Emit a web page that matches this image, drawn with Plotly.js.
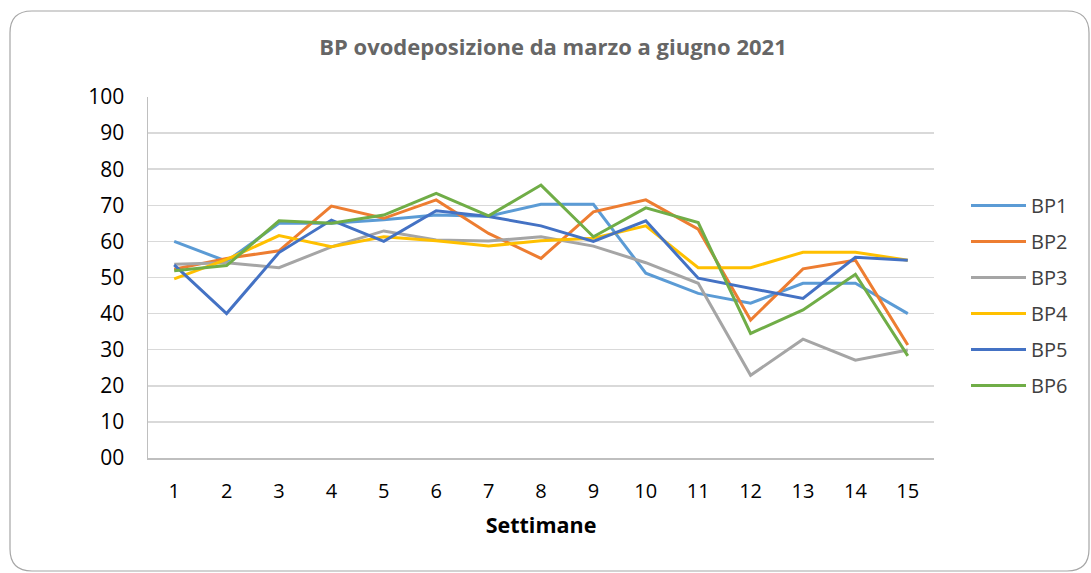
<!DOCTYPE html>
<html>
<head>
<meta charset="utf-8">
<script src="https://cdn.plot.ly/plotly-3.0.1.min.js"></script>
<style>html,body{margin:0;padding:0;background:#fff;}#chart{width:1091px;height:573px;}</style>
</head>
<body>
<div id="chart"></div>
<script>
const weeks = [1,2,3,4,5,6,7,8,9,10,11,12,13,14,15];
const BP1 = [60, 54.5, 65, 65, 66, 67.3, 67, 70.3, 70.3, 51.2, 45.6, 42.9, 48.4, 48.4, 40];
const BP2 = [52.3, 55.3, 57.4, 69.8, 66.4, 71.5, 62.2, 55.3, 68.2, 71.5, 63.4, 38.2, 52.4, 54.8, 31.3];
const BP3 = [53.7, 54.1, 52.7, 58.5, 62.9, 60.4, 60.1, 61.3, 58.7, 54.1, 48.4, 22.9, 32.9, 27.1, 29.9];
const BP4 = [49.6, 55, 61.6, 58.5, 61.3, 60.2, 58.7, 60.2, 60.9, 64.3, 52.7, 52.7, 57, 57, 54.8];
const BP5 = [53.5, 40, 56.9, 65.9, 60, 68.5, 66.9, 64.3, 60, 65.7, 49.8, 47, 44.2, 55.6, 54.8];
const BP6 = [51.9, 53.3, 65.7, 65, 67.3, 73.3, 67.1, 75.6, 61.3, 69.3, 65.2, 34.5, 41, 50.9, 28.3];
const seriesNames = ['BP1','BP2','BP3','BP4','BP5','BP6'];
const seriesData = [BP1, BP2, BP3, BP4, BP5, BP6];
const colors = ['#5B9BD5','#ED7D31','#A5A5A5','#FFC000','#4472C4','#70AD47'];
const yTickVals = [0,10,20,30,40,50,60,70,80,90,100];
const yTickText = ['00','10','20','30','40','50','60','70','80','90','100'];
const chartTitle = 'BP ovodeposizione da marzo a giugno 2021';
const xTitle = 'Settimane';

const traces = seriesData.map((d,i) => ({
  x: weeks, y: d, name: seriesNames[i], type: 'scatter', mode: 'lines',
  line: {color: colors[i], width: 3}, legendgroup: seriesNames[i]
}));

// plot area geometry in px
const L = 148, R = 934, T = 97, B = 458;
const W = R - L, H = B - T;
const px = v => (v - L) / W;
const py = v => (B - v) / H;
// rounded border box
const bx0 = 10, by0 = 11, bx1 = 1089, by1 = 571, r = 22;
const path = `M ${px(bx0)} ${py(by0 + r)} Q ${px(bx0)} ${py(by0)} ${px(bx0 + r)} ${py(by0)} L ${px(bx1 - r)} ${py(by0)} Q ${px(bx1)} ${py(by0)} ${px(bx1)} ${py(by0 + r)} L ${px(bx1)} ${py(by1 - r)} Q ${px(bx1)} ${py(by1)} ${px(bx1 - r)} ${py(by1)} L ${px(bx0 + r)} ${py(by1)} Q ${px(bx0)} ${py(by1)} ${px(bx0)} ${py(by1 - r)} Z`;

const font = 'Open Sans, Liberation Sans, sans-serif';
const layout = {
  width: 1091, height: 573,
  margin: {l: L, r: 1091 - R, t: T, b: 573 - B},
  paper_bgcolor: '#fff', plot_bgcolor: '#fff',
  font: {family: font, color: '#000'},
  title: {text: chartTitle, font: {family: font, size: 22, color: '#666666', weight: 'bold'},
    x: 553/1091, xref: 'container', xanchor: 'center', y: 1 - 47/573, yref: 'container', yanchor: 'middle'},
  xaxis: {range: [0.5, 15.5], tickvals: weeks, ticktext: weeks.map(String), showgrid: false,
    showline: true, linecolor: '#bfbfbf', linewidth: 1.5, ticks: 'outside', ticklen: 14, tickcolor: 'rgba(0,0,0,0)',
    tickfont: {size: 20, color: '#000'}, zeroline: false,
    title: {text: xTitle, font: {size: 21.5, color: '#000', weight: 'bold'}, standoff: 15}},
  yaxis: {range: [0, 100], tickvals: yTickVals, ticktext: yTickText, showgrid: true, gridcolor: '#d9d9d9', gridwidth: 1.5,
    showline: true, linecolor: '#bfbfbf', linewidth: 1.5, ticks: 'outside', ticklen: 18, tickcolor: 'rgba(0,0,0,0)',
    tickfont: {size: 21, color: '#000'}, zeroline: false},
  legend: {x: px(966), xanchor: 'left', y: py(186), yanchor: 'top', font: {size: 20, color: '#404040'},
    traceorder: 'grouped', tracegroupgap: 7, itemwidth: 55, bgcolor: 'rgba(0,0,0,0)'},
  shapes: [{type: 'path', xref: 'paper', yref: 'paper', path: path, line: {color: '#a6a6a6', width: 1.2}, fillcolor: 'rgba(0,0,0,0)', layer: 'below'}],
  showlegend: true
};
Plotly.newPlot('chart', traces, layout, {displayModeBar: false, staticPlot: true});
</script>
</body>
</html>
